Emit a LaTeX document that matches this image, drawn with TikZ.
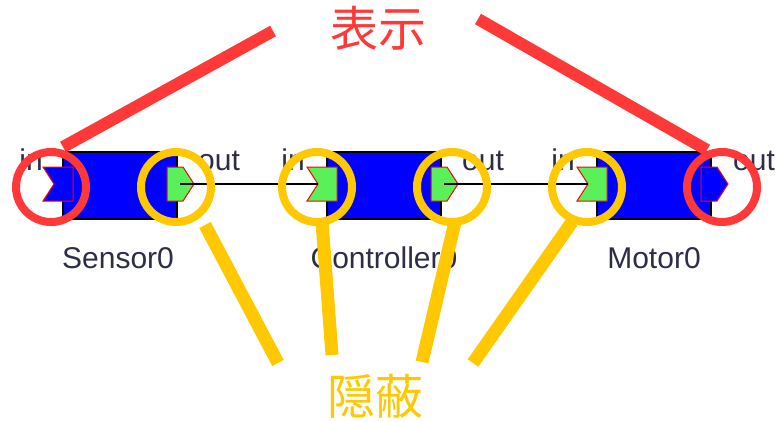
\documentclass[tikz,border=0pt]{standalone}
\usepackage{xcolor}
\usepackage{fontspec}
\usepackage{tikz}
\newfontfamily\uifont{Liberation Sans}
\newfontfamily\cjk{Noto Sans CJK JP}
\definecolor{mark red}{RGB}{255,56,56}
\definecolor{mark yellow}{RGB}{255,200,0}
\definecolor{port green}{RGB}{90,240,90}
\definecolor{label ink}{RGB}{45,45,70}

\begin{document}
\begin{tikzpicture}[x=1pt, y=-1pt,
    block/.style={draw=black, line width=1.5pt, fill=blue, minimum width=114pt, minimum height=67pt, inner sep=0pt},
    portline/.style={draw=red, line width=1pt},
    wire/.style={black, line width=1.2pt},
    tag/.style={font=\uifont\fontsize{30}{36}\selectfont, text=label ink, inner sep=0pt},
    ring/.style={line width=8pt},
    pointer/.style={line width=12pt, line cap=butt},
    callout/.style={font=\cjk\fontsize{48}{56}\selectfont, inner sep=0pt}]
    \useasboundingbox (0,0) rectangle (775,421);

    % blocks
    \node[block] (sensor) at (120,185.5) {};
    \node[block] (controller) at (384,185.5) {};
    \node[block] (motor) at (654,185.5) {};

    % ports
    \filldraw[portline, fill=blue] (43,167) -- (73,167) -- (73,201) -- (43,201) -- (54,184) -- cycle;
    \filldraw[portline, fill=port green] (167,167) -- (183,167) -- (194,184) -- (183,201) -- (167,201) -- cycle;
    \filldraw[portline, fill=port green] (307,167) -- (337,167) -- (337,201) -- (307,201) -- (318,184) -- cycle;
    \filldraw[portline, fill=port green] (431,167) -- (447,167) -- (458,184) -- (447,201) -- (431,201) -- cycle;
    \filldraw[portline, fill=port green] (577,167) -- (607,167) -- (607,201) -- (577,201) -- (588,184) -- cycle;
    \filldraw[portline, fill=blue] (701,167) -- (717,167) -- (728,184) -- (717,201) -- (701,201) -- cycle;

    \coordinate (sensor-out) at (180,184);
    \coordinate (controller-in) at (318,184);
    \coordinate (controller-out) at (444,184);
    \coordinate (motor-in) at (588,184);
    \draw[wire] (sensor-out) -- (controller-in);
    \draw[wire] (controller-out) -- (motor-in);

    % port and block labels
    \node[tag, anchor=base east] (sensor-in-tag) at (43,170) {in};
    \node[tag, anchor=base west] (sensor-out-tag) at (198,170) {out};
    \node[tag, anchor=base east] (controller-in-tag) at (305,170) {in};
    \node[tag, anchor=base west] (controller-out-tag) at (462,170) {out};
    \node[tag, anchor=base east] (motor-in-tag) at (575,170) {in};
    \node[tag, anchor=base west] (motor-out-tag) at (733,170) {out};
    \node[tag, anchor=base] (sensor-name) at (118,268) {Sensor0};
    \node[tag, anchor=base] (controller-name) at (384,268) {Controller0};
    \node[tag, anchor=base] (motor-name) at (654,268) {Motor0};

    % marks
    \node[callout, text=mark red] (shown) at (378,28) {表示};
    \node[callout, text=mark yellow] (hidden) at (375,396) {隠蔽};

    \draw[mark red, ring] (51,187) circle (35);
    \draw[mark red, ring] (722,187) circle (35);
    \draw[mark yellow, ring] (176,187) circle (35);
    \draw[mark yellow, ring] (317,187) circle (35);
    \draw[mark yellow, ring] (452,187) circle (35);
    \draw[mark yellow, ring] (587,187) circle (35);

    \draw[mark red, pointer] (273,31) -- (63,147);
    \draw[mark red, pointer] (478,19) -- (707,150);
    \draw[mark yellow, pointer, line width=13pt] (205,225) -- (278,363);
    \draw[mark yellow, pointer, line width=13pt] (322,222) -- (332,355);
    \draw[mark yellow, pointer, line width=13pt] (455,222) -- (422,362);
    \draw[mark yellow, pointer, line width=13pt] (572,222) -- (473,363);
\end{tikzpicture}
\end{document}
